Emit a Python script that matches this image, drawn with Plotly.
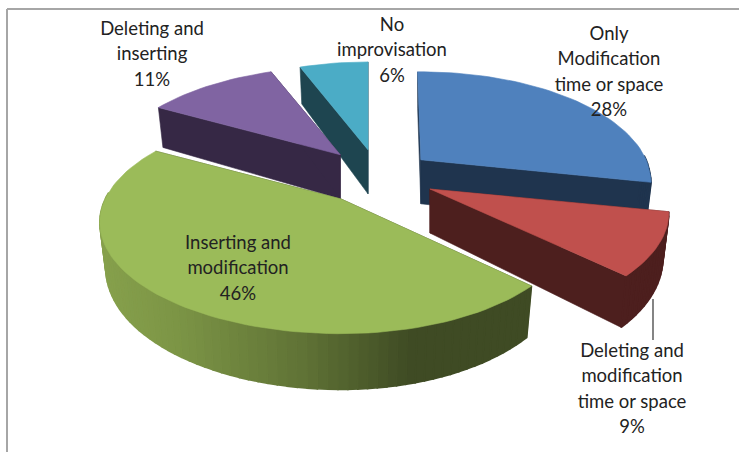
import math
import plotly.graph_objects as go

# ---- data ----
categories = ["Only Modification time or space", "Deleting and modification time or space",
              "Inserting and modification", "Deleting and inserting", "No improvisation"]
values = [28, 9, 46, 11, 6]
label_lines = [["Only", "Modification", "time or space"],
               ["Deleting and", "modification", "time or space"],
               ["Inserting and", "modification"],
               ["Deleting and", "inserting"],
               ["No", "improvisation"]]

# ---- style / layout ----
top_colors = ["#4F81BD", "#C0504D", "#9BBB59", "#8064A2", "#4BACC6"]
side_colors = ["#1F344E", "#4D1F1E", "#3F4B24", "#362845", "#1E4550"]
explode = [53, 56, 66, 60, 64]
tilt = [0.45, 0.55, 0.45, 0.45, 0.40]
rot_deg = [-1, 1, 1, 0.5, 0]
x_scale = [0.955, 0.99, 0.96, 0.975, 0.935]
front_y = [1.2, 1.0, 1.0, 1.0, 1.0]
label_pos = [(609, 35), (632, 352), (238, 244), (152, 30), (392, 26)]
LINE_H = 25.3
CX, CY, R, RK, P, DEPTH, SHRINK = 380, 175, 236, 106.4, 0.21, 44, 0.975
draw_order = [4, 3, 0, 1, 2]
FONT = "Lato"


def proj(theta, apex, i, bottom=False):
    s_, c_ = math.sin(theta), math.cos(theta)
    s = 1 / (1 + P * c_)
    xs = x_scale[i] if not (i == 2 and s_ < 0) else 1.0
    ys = front_y[i] if c_ < 0 else 1.0
    x, y = R * s * s_ * xs, -RK * s * c_ * ys
    if bottom:
        return apex[0] + x * SHRINK, apex[1] + y + DEPTH * s
    return apex[0] + x, apex[1] + y


def mix(x):
    stops = [(100, (134, 160, 76)), (170, (125, 150, 70)), (300, (96, 115, 54)),
             (370, (75, 90, 42)), (410, (63, 75, 36)), (740, (63, 75, 36))]
    for (a, ca), (b, cb) in zip(stops, stops[1:]):
        if a <= x <= b:
            t = (x - a) / (b - a)
            return "rgb(%d,%d,%d)" % tuple(round(u + (v - u) * t) for u, v in zip(ca, cb))
    return "rgb(134,160,76)"


fig = go.Figure()


def poly(pts, color, lw=0.6):
    xs = [p[0] for p in pts] + [pts[0][0]]
    ys = [p[1] for p in pts] + [pts[0][1]]
    fig.add_trace(go.Scatter(x=xs, y=ys, mode="lines", fill="toself", fillcolor=color,
                             line=dict(color=color, width=lw), hoverinfo="skip", showlegend=False))


total = sum(values)
angles = [0.0]
for v in values:
    angles.append(angles[-1] + v / total * 2 * math.pi)

for i in draw_order:
    rot = math.radians(rot_deg[i])
    a0, a1 = angles[i] + rot, angles[i + 1] + rot
    mid = (angles[i] + angles[i + 1]) / 2
    apex = (CX + explode[i] * math.sin(mid), CY - tilt[i] * explode[i] * math.cos(mid))
    apex_b = (apex[0], apex[1] + DEPTH)
    n = max(2, int((a1 - a0) / math.radians(2)))
    ts = [a0 + (a1 - a0) * k / n for k in range(n + 1)]
    # radial walls
    for a in (a0, a1):
        poly([apex, proj(a, apex, i), proj(a, apex, i, True), apex_b], side_colors[i])
    # outer wall, only where it faces the viewer
    for t0, t1 in zip(ts, ts[1:]):
        if math.cos((t0 + t1) / 2) > 0.05:
            continue
        p = [proj(t0, apex, i), proj(t1, apex, i), proj(t1, apex, i, True), proj(t0, apex, i, True)]
        col = mix((p[0][0] + p[1][0]) / 2) if i == 2 else side_colors[i]
        poly(p, col, 1.6)
    # top
    poly([apex] + [proj(t, apex, i) for t in ts], top_colors[i])

# leader line
fig.add_trace(go.Scatter(x=[653, 653], y=[299, 340], mode="lines", line=dict(color="#333333", width=1.2),
                         hoverinfo="skip", showlegend=False))

# labels
for lines, v, (lx, ly) in zip(label_lines, values, label_pos):
    rows = lines + ["%d%%" % v]
    fig.add_trace(go.Scatter(x=[lx] * len(rows), y=[ly + 0.5 + k * LINE_H for k in range(len(rows))],
                             text=rows, mode="text", textposition="middle center",
                             textfont=dict(family=FONT, size=18.5, color="#222222"),
                             hoverinfo="skip", showlegend=False))

fig.update_layout(
    width=739, height=452, margin=dict(l=0, r=0, t=0, b=0), autosize=False,
    paper_bgcolor="white", plot_bgcolor="white", showlegend=False,
    xaxis=dict(range=[0, 739], visible=False, fixedrange=True),
    yaxis=dict(range=[452, 0], visible=False, fixedrange=True),
    shapes=[
        dict(type="line", xref="x", yref="y", x0=7, x1=7, y0=9, y1=452, line=dict(color="#a6a6a6", width=2)),
        dict(type="line", xref="x", yref="y", x0=7, x1=739, y0=9, y1=9, line=dict(color="#a6a6a6", width=2)),
    ],
)
fig.write_html("out.html", config={"displayModeBar": False},
               post_script="document.body.style.margin='0';document.body.style.overflow='hidden';")
